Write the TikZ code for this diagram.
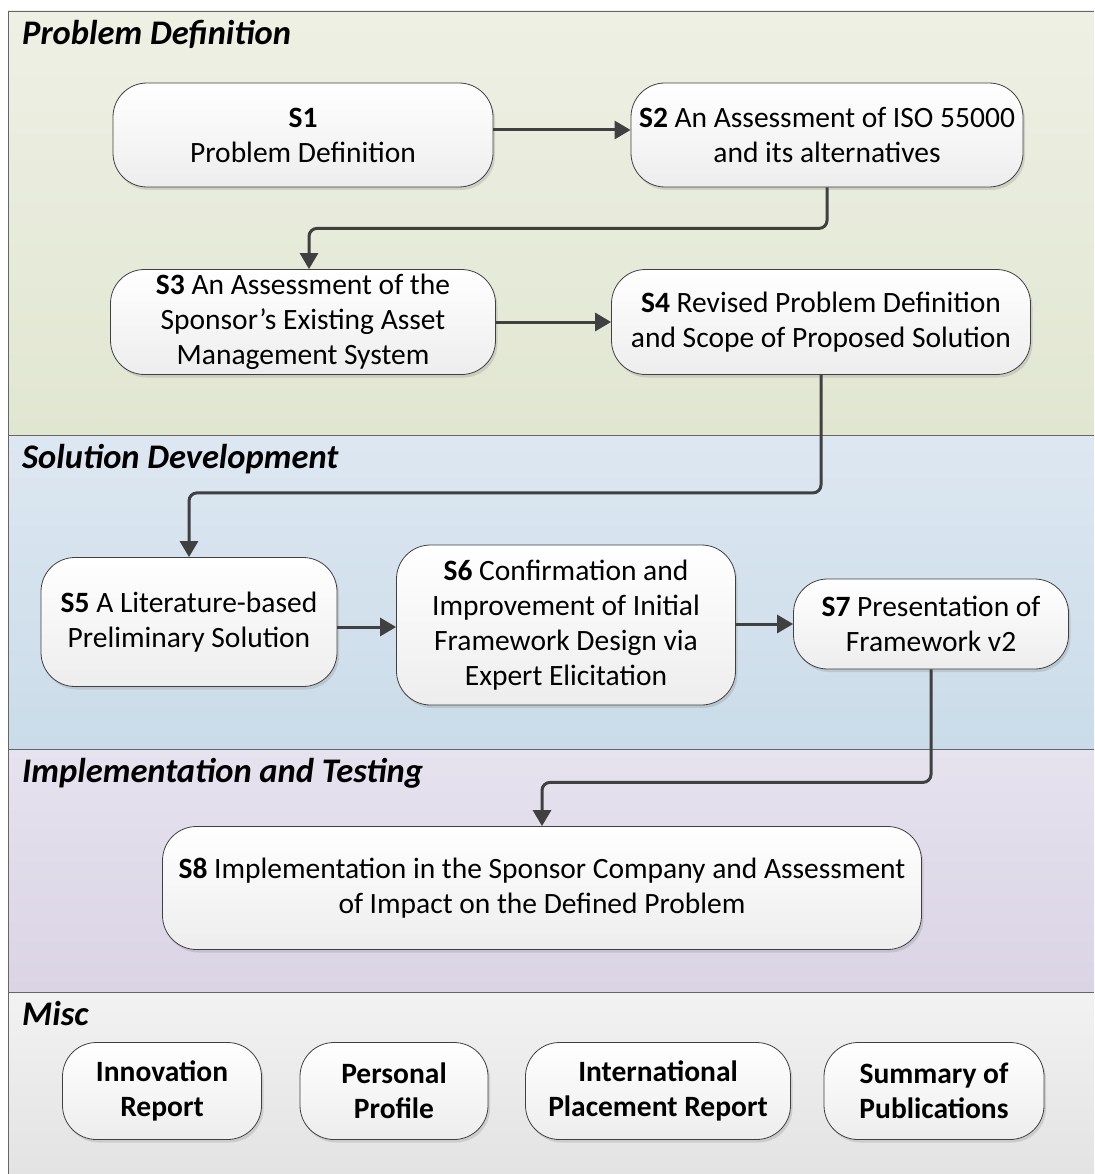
\documentclass[tikz,border=0pt]{standalone}
\usepackage{fontspec}
\setmainfont{Carlito}
\usepackage{tikz}
\usetikzlibrary{arrows.meta}
\usetikzlibrary{shadows}
\definecolor{lineclr}{HTML}{404040}
\definecolor{pdtop}{HTML}{EEF0E4}
\definecolor{pdbot}{HTML}{E1E6D1}
\definecolor{sdtop}{HTML}{DDE7F1}
\definecolor{sdbot}{HTML}{CADCE9}
\definecolor{ittop}{HTML}{E6E2EE}
\definecolor{itbot}{HTML}{DAD4E5}
\definecolor{mitop}{HTML}{F2F2F2}
\definecolor{mibot}{HTML}{E3E3E3}

\begin{document}
\begin{tikzpicture}[x=1pt, y=-1pt]

                \tikzstyle{lane}  = [draw=gray!80!black, line width=0.8pt]
                \tikzstyle{lanetitle} = [anchor=north west, inner sep=0pt, font=\fontsize{34.5}{40}\selectfont\bfseries\itshape]
                \tikzstyle{stepbox} = [draw=lineclr, line width=0.8pt, rounded corners=34pt, top color=white, bottom color=black!7,
                        align=center, font=\fontsize{29.5}{35}\selectfont, drop shadow={shadow xshift=2pt, shadow yshift=-3pt, opacity=0.25}]
                \tikzstyle{miscbox} = [stepbox, font=\fontsize{29.5}{35}\selectfont\bfseries, minimum width=190pt, minimum height=97pt]
                \tikzstyle{link} = [draw=lineclr, line width=3pt, rounded corners=8pt, -{Triangle[length=16pt, width=18pt]}]

                \useasboundingbox (0,0) rectangle (1094,1174);

                \shade [top color=pdtop, bottom color=pdbot] (8,11) rectangle (1094,435);
                \shade [top color=sdtop, bottom color=sdbot] (8,435) rectangle (1094,749);
                \shade [top color=ittop, bottom color=itbot] (8,749) rectangle (1094,992);
                \shade [top color=mitop, bottom color=mibot] (8,992) rectangle (1094,1174);

                \foreach \y in {11, 435, 749, 992}
                {
                        \draw [lane] (8,\y) -- (1094,\y);
                }
                \draw [lane] (8,11) -- (8,1174);

                \node [lanetitle](t1) at (22,20) {Problem Definition};
                \node [lanetitle](t2) at (22,444) {Solution Development};
                \node [lanetitle](t3) at (22,758) {Implementation and Testing};
                \node [lanetitle](t4) at (22,1001) {Misc};

                \node [stepbox, minimum width=380pt, minimum height=104pt](s1) at (303,135)
                        {\textbf{S1}\\Problem Definition};
                \node [stepbox, minimum width=392pt, minimum height=104pt](s2) at (827,135)
                        {\textbf{S2} An Assessment of ISO 55000\\and its alternatives};
                \node [stepbox, minimum width=385pt, minimum height=105pt](s3) at (303,322)
                        {\textbf{S3} An Assessment of the\\Sponsor’s Existing Asset\\Management System};
                \node [stepbox, minimum width=419pt, minimum height=105pt](s4) at (821,322)
                        {\textbf{S4} Revised Problem Definition\\and Scope of Proposed Solution};
                \node [stepbox, minimum width=296pt, minimum height=129pt](s5) at (189,622)
                        {\textbf{S5} A Literature-based\\Preliminary Solution};
                \node [stepbox, minimum width=339pt, minimum height=160pt](s6) at (566,625)
                        {\textbf{S6} Confirmation and\\Improvement of Initial\\Framework Design via\\Expert Elicitation};
                \node [stepbox, minimum width=275pt, minimum height=90pt](s7) at (931,624)
                        {\textbf{S7} Presentation of\\Framework v2};
                \node [stepbox, minimum width=759pt, minimum height=123pt](s8) at (542,888)
                        {\textbf{S8} Implementation in the Sponsor Company and Assessment\\of Impact on the Defined Problem};

                \node [miscbox, minimum width=199pt](m1) at (162,1091) {Innovation\\Report};
                \node [miscbox, minimum width=188pt](m2) at (394,1091) {Personal\\Profile};
                \node [miscbox, minimum width=265pt](m3) at (658,1091) {International\\Placement Report};
                \node [miscbox, minimum width=220pt](m4) at (934,1091) {Summary of\\Publications};

                \draw [link] (s1.east |- 0,130) -- (s2.west |- 0,130);
                \draw [link] (s2.south) -- ++(0,41) -| (s3.north -| 309,0);
                \draw [link] (s3.east) -- (s4.west);
                \draw [link] (s4.south) -- ++(0,118) -| (s5.north);
                \draw [link] (s5.east |- 0,627) -- (s6.west |- 0,627);
                \draw [link] (s6.east |- 0,624) -- (s7.west |- 0,624);
                \draw [link] (s7.south) -- ++(0,113) -| (s8.north);

\end{tikzpicture}
\end{document}
